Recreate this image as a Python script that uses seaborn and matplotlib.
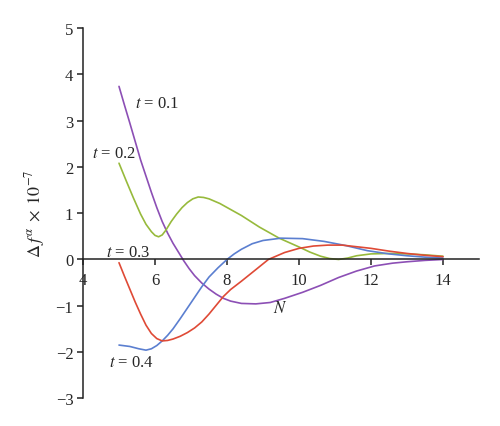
import matplotlib
matplotlib.use('Agg')
import matplotlib.pyplot as plt
import seaborn as sns
import pandas as pd

# t = 0.1 (purple)
x_t1 = [5.0, 5.15, 5.3, 5.45, 5.6, 5.75, 5.9, 6.05, 6.2, 6.35, 6.5, 6.65, 6.8, 6.95, 7.1, 7.3,
        7.5, 7.7, 7.9, 8.1, 8.4, 8.8, 9.2, 9.6, 10.1, 10.6, 11.1, 11.6, 12.1, 12.6, 13.0, 13.5, 14.0]
y_t1 = [3.74, 3.34, 2.95, 2.55, 2.15, 1.8, 1.45, 1.12, 0.82, 0.57, 0.35, 0.16, -0.03, -0.2, -0.35, -0.51,
        -0.64, -0.75, -0.84, -0.9, -0.95, -0.96, -0.93, -0.84, -0.71, -0.56, -0.39, -0.25, -0.14, -0.08, -0.05, -0.02, 0.0]

# t = 0.2 (green)
x_t2 = [5.0, 5.2, 5.4, 5.6, 5.75, 5.9, 6.0, 6.1, 6.2, 6.3, 6.45, 6.6, 6.75, 6.9, 7.05, 7.2,
        7.35, 7.5, 7.8, 8.1, 8.4, 8.9, 9.45, 10.0, 10.3, 10.6, 10.85, 11.1, 11.35, 11.6, 12.0,
        12.5, 13.0, 13.5, 14.0]
y_t2 = [2.08, 1.7, 1.33, 0.98, 0.76, 0.6, 0.52, 0.49, 0.53, 0.63, 0.82, 0.98, 1.12, 1.23, 1.31, 1.35,
        1.34, 1.31, 1.21, 1.08, 0.95, 0.7, 0.46, 0.27, 0.16, 0.07, 0.02, 0.0, 0.03, 0.08, 0.12,
        0.13, 0.12, 0.1, 0.07]

# t = 0.3 (blue)
x_t3 = [5.0, 5.3, 5.55, 5.75, 5.9, 6.05, 6.2, 6.35, 6.5, 6.7, 6.9, 7.1, 7.3, 7.5, 7.75, 8.0,
        8.2, 8.4, 8.7, 9.0, 9.5, 10.1, 10.7, 11.3, 11.9, 12.5, 13.0, 13.5, 14.0]
y_t3 = [-1.85, -1.88, -1.93, -1.96, -1.93, -1.86, -1.76, -1.64, -1.5, -1.28, -1.05, -0.82, -0.59, -0.38, -0.18, 0.0,
        0.12, 0.22, 0.34, 0.41, 0.46, 0.45, 0.39, 0.3, 0.19, 0.12, 0.08, 0.05, 0.03]

# t = 0.4 (red)
x_t4 = [5.0, 5.15, 5.3, 5.45, 5.6, 5.75, 5.9, 6.05, 6.2, 6.35, 6.5, 6.7, 6.9, 7.1, 7.3, 7.5,
        7.7, 7.9, 8.1, 8.4, 8.8, 9.15, 9.6, 10.0, 10.4, 10.8, 11.2, 12.0, 12.5, 13.0, 13.5, 14.0]
y_t4 = [-0.07, -0.36, -0.64, -0.92, -1.18, -1.42, -1.6, -1.71, -1.76, -1.75, -1.72, -1.66, -1.58, -1.48, -1.35, -1.18,
        -0.99, -0.8, -0.65, -0.47, -0.22, 0.0, 0.15, 0.24, 0.29, 0.31, 0.31, 0.24, 0.18, 0.13, 0.09, 0.06]

series = [(x_t1, y_t1, '#8c4fb5'), (x_t2, y_t2, '#97ba3c'),
          (x_t3, y_t3, '#5b7fd0'), (x_t4, y_t4, '#df4a36')]

sns.set_style('ticks')
plt.rcParams['font.family'] = ['Liberation Serif', 'DejaVu Serif']
plt.rcParams['mathtext.fontset'] = 'stix'

fig = plt.figure(figsize=(5, 4.27), dpi=100)
ax = fig.add_axes([0.166, 0.0649, 0.792, 0.867])

for xs, ys, c in series:
    df = pd.DataFrame({'x': xs, 'y': ys})
    sns.lineplot(data=df, x='x', y='y', color=c, lw=1.2, ax=ax)

ax.set_xlim(4, 15)
ax.set_ylim(-3, 5)
ax.set_xticks([4, 6, 8, 10, 12, 14])
ax.set_yticks(range(-3, 6))
ax.spines['top'].set_visible(False)
ax.spines['right'].set_visible(False)
ax.spines['bottom'].set_position(('data', 0))
ax.spines['left'].set_bounds(-3, 5)
for s in ('left', 'bottom'):
    ax.spines[s].set_linewidth(1.1)
    ax.spines[s].set_color('#222222')
ax.tick_params(axis='both', labelsize=12, length=4, width=1.1, color='#222222')
ax.tick_params(axis='x', pad=5)
ax.tick_params(axis='y', pad=3)

ax.set_xlabel('')
ax.set_ylabel(r'$\Delta\, f^{\alpha}\;\times\;10^{-7}$', fontsize=13)
ax.yaxis.set_label_coords(-0.09, 0.5)

lab = dict(fontsize=12, ha='center', va='center')
ax.text(6.05, 3.38, r'$t$ = 0.1', **lab)
ax.text(4.86, 2.31, r'$t$ = 0.2', **lab)
ax.text(5.26, 0.17, r'$t$ = 0.3', **lab)
ax.text(5.35, -2.22, r'$t$ = 0.4', **lab)
ax.text(9.47, -1.04, r'$N$', **lab)

fig.savefig('out.png', dpi=100)
